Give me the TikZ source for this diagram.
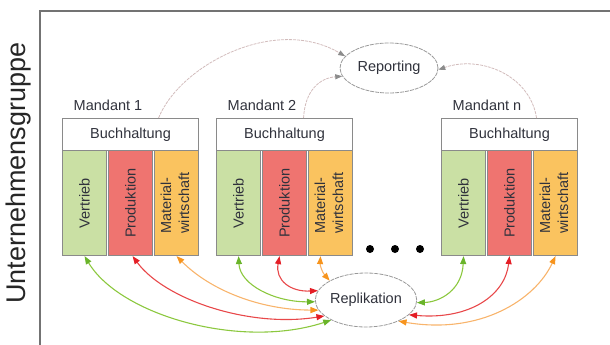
\documentclass[tikz,border=0pt]{standalone}
\usepackage{fontspec}
\setmainfont{Liberation Sans}
\usetikzlibrary{shapes.geometric,arrows.meta}
\definecolor{cgreen}{HTML}{CAE0A4}
\definecolor{cred}{HTML}{EF7470}
\definecolor{corange}{HTML}{FAC35F}
\definecolor{txt}{HTML}{30323C}
\definecolor{bord}{HTML}{8A8A8A}
\definecolor{lgreen}{HTML}{8CC83F}
\definecolor{dgreen}{HTML}{6AB42A}
\definecolor{lred}{HTML}{E8484A}
\definecolor{dred}{HTML}{E41E26}
\definecolor{lorange}{HTML}{F8B46C}
\definecolor{dorange}{HTML}{F7941D}
\definecolor{repline}{HTML}{D2BCBC}
\newcommand\mblock[3]{%
  \node[buch, anchor=north west] (b#1) at (#2,118) {Buchhaltung};
  \node[col, fill=cgreen, anchor=north west] (v#1) at (#2,150) {\rotatebox{90}{Vertrieb}};
  \node[col, fill=cred, anchor=north west] (p#1) at (#2+46,150) {\rotatebox{90}{Produktion}};
  \node[col, fill=corange, anchor=north west] (w#1) at (#2+92,150) {\rotatebox{90}{\begin{tabular}{@{}l@{}}Material-\\wirtschaft\end{tabular}}};
  \node[lbl] (l#1) at (#2+46,105) {#3};
}
\begin{document}
\begin{tikzpicture}[x=1pt,y=-1pt,
  every node/.style={text=txt, font=\fontsize{14.5}{18}\selectfont},
  buch/.style={draw=bord, line width=1.1pt, fill=white, minimum width=136pt, minimum height=32pt, inner sep=0pt},
  col/.style={draw=bord, line width=1.1pt, minimum width=44pt, minimum height=105pt, inner sep=0pt},
  lbl/.style={inner sep=0pt},
  ell/.style={ellipse, draw=gray!80, dash pattern=on 4pt off 1pt, line width=0.8pt, fill=white, inner sep=0pt},
  rarr/.style={draw=repline, line width=0.8pt, dash pattern=on 3pt off 1pt, -{Triangle[length=7pt,width=5pt,color=gray!90]}},
  ga/.style={draw=lgreen, line width=1.1pt, {Triangle[length=8pt,width=6pt,color=dgreen]}-{Triangle[length=8pt,width=6pt,color=dgreen]}},
  ra/.style={draw=lred, line width=1.1pt, {Triangle[length=8pt,width=6pt,color=dred]}-{Triangle[length=8pt,width=6pt,color=dred]}},
  oa/.style={draw=lorange, line width=1.1pt, {Triangle[length=8pt,width=6pt,color=dorange]}-{Triangle[length=8pt,width=6pt,color=dorange]}}
]
\useasboundingbox (0,0) rectangle (610,345);
\draw[color=gray!90!black, line width=1.4pt] (40,346) -- (40,11) -- (611,11);
\node[inner sep=0pt, text=black!85] (ug) at (19,173) {\fontsize{27}{30}\selectfont\rotatebox{90}{Unternehmensgruppe}};

\mblock{1}{62}{Mandant 1}
\mblock{2}{216}{Mandant 2}
\mblock{n}{441}{Mandant n}

\fill[black] (370,249) circle[radius=4pt] (395,249) circle[radius=4pt] (420,249) circle[radius=4pt];

\node[ell, minimum width=98pt, minimum height=50pt] (rep) at (389,68) {Reporting};
\node[ell, minimum width=96pt, minimum height=54pt] (repl) at (366,300) {Replikation};

% reporting
\draw[rarr] ([xshift=28pt]b1.north) .. controls (180,65) and (275,15) .. (rep.165);
\draw[rarr] ([xshift=19pt]b2.north) .. controls (305,90) and (320,78) .. (rep.190);
\draw[rarr] ([xshift=27pt]bn.north) .. controls (530,75) and (480,55) .. (rep.358);

% replication, Mandant 1
\draw[ga] (v1.south) .. controls (120,315) and (240,350) .. (repl.210);
\draw[ra] ([xshift=2pt]p1.south) .. controls (165,300) and (250,328) .. (repl.201);
\draw[oa] (w1.south) .. controls (210,290) and (260,310) .. (repl.192);
% Mandant 2
\draw[ga] (v2.south) .. controls (240,285) and (275,302) .. (repl.182);
\draw[ra] ([xshift=-5pt]p2.south) .. controls (275,280) and (290,292) .. (repl.169);
\draw[oa] ([xshift=-10pt]w2.south) .. controls (320,265) and (322,272) .. (repl.152);
% Mandant n
\draw[ga] (vn.south) .. controls (462,290) and (440,302) .. (repl.357);
\draw[ra] (pn.south) .. controls (505,295) and (470,320) .. (repl.341);
\draw[oa] (wn.south) .. controls (535,300) and (480,335) .. (repl.327);
\end{tikzpicture}
\end{document}
